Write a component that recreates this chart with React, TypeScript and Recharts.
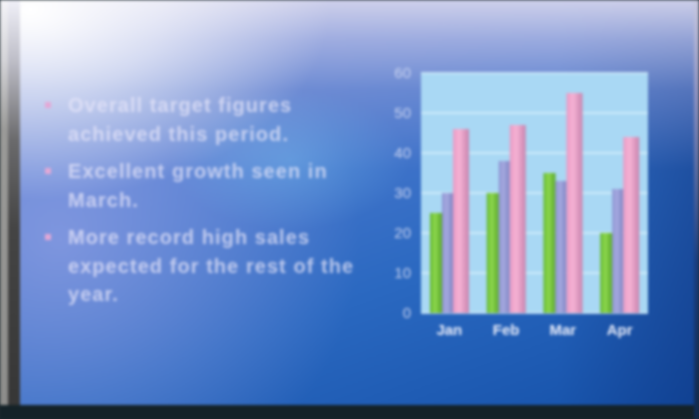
import { BarChart, Bar, XAxis, YAxis, CartesianGrid } from 'recharts'

const months = ['Jan', 'Feb', 'Mar', 'Apr']
const greenSeries = [25, 30, 35, 20]
const purpleSeries = [30, 38, 33, 31]
const pinkSeries = [46, 47, 55, 44]
const yTicks = [0, 10, 20, 30, 40, 50, 60]

const bullets = [
  ['Overall target figures', 'achieved this period.'],
  ['Excellent growth seen in', 'March.'],
  ['More record high sales', 'expected for the rest of the', 'year.'],
]

const data = months.map((m, i) => ({
  month: m,
  green: greenSeries[i],
  purple: purpleSeries[i],
  pink: pinkSeries[i],
}))

const font = '"Liberation Sans", Arial, sans-serif'

export default function App() {
  return (
    <div
      style={{
        position: 'absolute',
        left: 0,
        top: 0,
        width: 699,
        height: 419,
        overflow: 'hidden',
        background: '#1c2a30',
      }}
    >
      <div style={{ position: 'absolute', inset: 0, filter: 'blur(1.8px)' }}>
        {/* slide background */}
        <div
          style={{
            position: 'absolute',
            left: 0,
            top: 0,
            width: 699,
            height: 405,
            background: [
              'radial-gradient(ellipse 300px 190px at 30px 10px, rgba(255,255,255,1), rgba(255,255,255,0.6) 45%, rgba(255,255,255,0) 100%)',
              'radial-gradient(ellipse 120px 70px at 290px 160px, rgba(130,205,245,0.35), rgba(130,205,245,0) 100%)',
              'linear-gradient(180deg, rgba(212,212,236,0.95) 0px, rgba(180,186,228,0.75) 40px, rgba(140,155,215,0.45) 90px, rgba(120,140,215,0) 170px)',
              'radial-gradient(ellipse 300px 280px at 60px 240px, rgba(145,160,228,0.75), rgba(145,160,228,0) 100%)',
              'linear-gradient(90deg, rgba(0,0,0,0) 80%, rgba(10,40,110,0.4) 100%)',
              'linear-gradient(160deg, #7e94dc 0%, #4576cc 40%, #2a68c0 65%, #1450a8 100%)',
            ].join(','),
          }}
        />
        {/* frame */}
        <div
          style={{
            position: 'absolute',
            left: 0,
            top: 0,
            width: 8,
            height: 419,
            background: 'linear-gradient(180deg, #f4f4f8 0px, #d4d4d8 60px, #9a9a98 130px, #8c8c8a 100%)',
          }}
        />
        <div
          style={{
            position: 'absolute',
            left: 8,
            top: 0,
            width: 12,
            height: 419,
            background: 'linear-gradient(180deg, rgba(240,240,248,1) 0px, rgba(190,190,200,1) 60px, #6a6a6c 140px, #444 230px, #353535 100%)',
          }}
        />
        <div style={{ position: 'absolute', left: 0, top: 405, width: 699, height: 14, background: '#142228' }} />
        <div
          style={{
            position: 'absolute',
            left: 694,
            top: 0,
            width: 5,
            height: 419,
            background: 'linear-gradient(180deg, #c8c8e0 0px, #8a90c0 100px, #1a3e80 260px, #102a50 100%)',
          }}
        />

        {/* bullet text */}
        <div
          style={{
            position: 'absolute',
            left: 44,
            top: 91,
            width: 340,
            fontFamily: font,
            fontSize: 20,
            fontWeight: 700,
            letterSpacing: 1.05,
            lineHeight: '28.5px',
            color: 'rgba(232,230,250,0.72)',
          }}
        >
          {bullets.map((lines, i) => (
            <div key={i} style={{ position: 'relative', paddingLeft: 24, marginBottom: 9 }}>
              <span
                style={{
                  position: 'absolute',
                  left: 1,
                  top: 11,
                  width: 6,
                  height: 6,
                  background: '#e4a8d6',
                }}
              />
              {lines.map((l, j) => (
                <div key={j} style={{ whiteSpace: 'nowrap' }}>{l}</div>
              ))}
            </div>
          ))}
        </div>

        {/* chart */}
        <div style={{ position: 'absolute', left: 370, top: 60 }}>
          <BarChart
            width={290}
            height={290}
            data={data}
            margin={{ top: 13, right: 12, bottom: 7, left: 0 }}
            barGap={0}
            barCategoryGap={9}
          >
            <defs>
              <linearGradient id="gGreen" x1="0" y1="0" x2="1" y2="0">
                <stop offset="0%" stopColor="#5fb52c" />
                <stop offset="40%" stopColor="#8ed84e" />
                <stop offset="100%" stopColor="#5aa82a" />
              </linearGradient>
              <linearGradient id="gPurple" x1="0" y1="0" x2="1" y2="0">
                <stop offset="0%" stopColor="#8a90d0" />
                <stop offset="40%" stopColor="#a6aae0" />
                <stop offset="100%" stopColor="#7e84c4" />
              </linearGradient>
              <linearGradient id="gPink" x1="0" y1="0" x2="1" y2="0">
                <stop offset="0%" stopColor="#e89ac4" />
                <stop offset="40%" stopColor="#f6b2d4" />
                <stop offset="100%" stopColor="#c884ae" />
              </linearGradient>
            </defs>
            <CartesianGrid
              vertical={false}
              stroke="#d8f0fc"
              strokeWidth={1.5}
              fill="#a9d8f4"
              fillOpacity={1}
            />
            <XAxis
              dataKey="month"
              axisLine={false}
              tickLine={false}
              tickMargin={5}
              tick={{ fill: '#e8ecfa', fontSize: 15, fontWeight: 700, fontFamily: font }}
            />
            <YAxis
              domain={[0, 60]}
              ticks={yTicks}
              width={51}
              axisLine={false}
              tickLine={false}
              tickSize={0}
              tickMargin={10}
              tick={{ fill: '#c8d2f0', fontSize: 15, fontFamily: font }}
            />
            <Bar dataKey="green" fill="url(#gGreen)" barSize={12} isAnimationActive={false} />
            <Bar dataKey="purple" fill="url(#gPurple)" barSize={11} isAnimationActive={false} />
            <Bar dataKey="pink" fill="url(#gPink)" barSize={16} isAnimationActive={false} />
          </BarChart>
        </div>
      </div>
    </div>
  )
}
